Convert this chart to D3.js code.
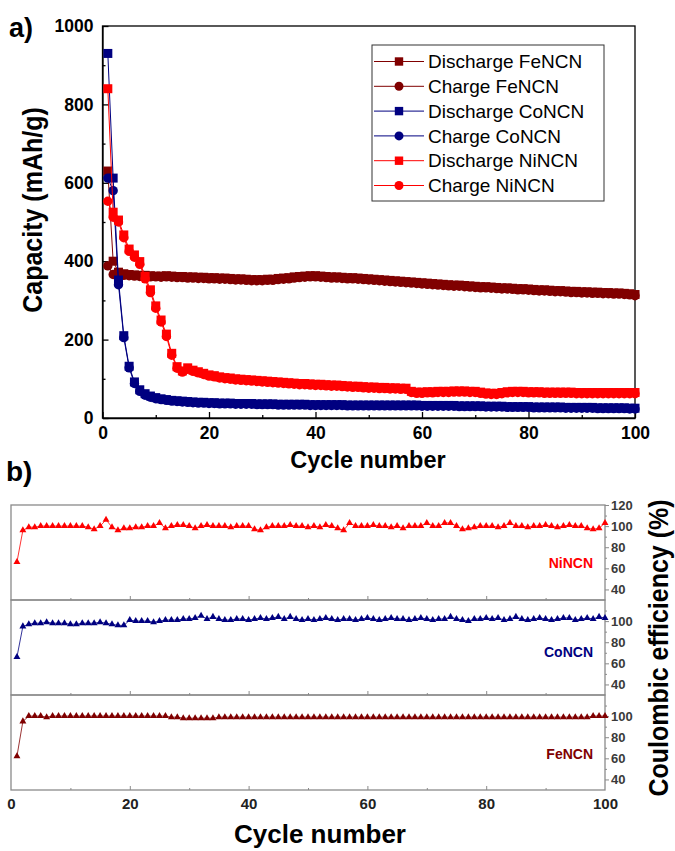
<!DOCTYPE html>
<html>
<head>
<meta charset="utf-8">
<script src="https://cdn.jsdelivr.net/npm/d3@7"></script>
<style>
  html, body { margin: 0; padding: 0; background: #fff; }
  svg { display: block; font-family: Arial, "Liberation Sans", sans-serif; }
</style>
</head>
<body>
<svg id="chart" width="675" height="851"></svg>
<script>
// ---------- data ----------
const cycles = d3.range(1, 101);

// Capacity (mAh/g) per cycle
const feDischarge = [
  630, 400, 372, 368, 366, 365, 364, 364, 363, 362,
  362, 363, 362, 361, 361, 360, 360, 359, 359, 358,
  358, 357, 357, 356, 355, 355, 354, 353, 353, 353,
  354, 354, 356, 357, 358, 360, 361, 362, 363, 363,
  362, 361, 360, 360, 359, 358, 358, 357, 356, 355,
  354, 353, 352, 351, 350, 349, 348, 347, 346, 345,
  344, 343, 342, 341, 340, 339, 339, 338, 337, 336,
  335, 335, 334, 333, 332, 332, 331, 330, 330, 329,
  328, 327, 327, 326, 325, 325, 324, 323, 323, 322,
  322, 321, 321, 320, 320, 319, 319, 318, 317, 315
];
const feCharge = [
  388, 366, 365, 364, 363, 362, 361, 361, 360, 360,
  359, 360, 359, 358, 358, 357, 357, 356, 356, 355,
  355, 354, 354, 353, 352, 352, 351, 350, 350, 350,
  351, 351, 353, 354, 355, 357, 358, 359, 360, 360,
  359, 358, 357, 357, 356, 355, 355, 354, 353, 352,
  351, 350, 349, 348, 347, 346, 345, 344, 343, 342,
  341, 340, 339, 338, 337, 336, 336, 335, 334, 333,
  332, 332, 331, 330, 329, 329, 328, 327, 327, 326,
  325, 324, 324, 323, 322, 322, 321, 320, 320, 319,
  319, 318, 318, 317, 317, 316, 316, 315, 314, 312
];
const coDischarge = [
  930, 612, 352, 210, 132, 92, 72, 62, 56, 52,
  49, 47, 45, 44, 43, 42, 41, 40, 40, 39,
  39, 38, 38, 38, 37, 37, 37, 37, 36, 36,
  36, 36, 35, 35, 35, 35, 35, 35, 34, 34,
  34, 34, 34, 34, 34, 33, 33, 33, 33, 33,
  33, 33, 33, 33, 33, 33, 33, 33, 33, 32,
  32, 32, 32, 32, 32, 32, 31, 31, 31, 31,
  31, 30, 30, 30, 30, 29, 29, 29, 29, 29,
  28, 28, 28, 28, 28, 28, 27, 27, 27, 27,
  27, 27, 26, 26, 26, 26, 26, 26, 25, 25
];
const coCharge = [
  612, 580, 340, 205, 128, 88, 68, 58, 53, 49,
  47, 45, 43, 42, 41, 40, 39, 38, 38, 37,
  37, 36, 36, 36, 35, 35, 35, 35, 34, 34,
  34, 34, 33, 33, 33, 33, 33, 33, 32, 32,
  32, 32, 32, 32, 32, 31, 31, 31, 31, 31,
  31, 31, 31, 31, 31, 31, 31, 31, 31, 30,
  30, 30, 30, 30, 30, 30, 29, 29, 29, 29,
  29, 28, 28, 28, 28, 27, 27, 27, 27, 27,
  26, 26, 26, 26, 26, 26, 25, 25, 25, 25,
  25, 25, 24, 24, 24, 24, 24, 24, 23, 23
];
const niDischarge = [
  840, 525, 505, 467, 431, 416, 399, 361, 327, 286,
  250, 214, 165, 131, 120, 128, 122, 118, 114, 110,
  108, 105, 103, 102, 100, 99, 98, 97, 96, 95,
  94, 93, 92, 91, 90, 89, 88, 88, 87, 86,
  86, 85, 84, 84, 83, 82, 81, 81, 80, 79,
  79, 78, 78, 77, 77, 76, 76, 68, 66, 66,
  67, 67, 68, 68, 68, 69, 69, 69, 68, 68,
  66, 64, 63, 63, 65, 67, 68, 68, 68, 67,
  67, 67, 66, 66, 66, 66, 66, 66, 65, 65,
  65, 65, 65, 65, 65, 65, 65, 65, 65, 65
];
const niCharge = [
  553, 512, 500, 460, 425, 410, 392, 355, 320, 280,
  245, 208, 160, 127, 117, 124, 119, 115, 111, 107,
  105, 102, 100, 99, 97, 96, 95, 94, 93, 92,
  91, 90, 89, 88, 87, 86, 85, 85, 84, 83,
  83, 82, 81, 81, 80, 79, 78, 78, 77, 76,
  76, 75, 75, 74, 74, 73, 73, 65, 63, 63,
  64, 64, 65, 65, 65, 66, 66, 66, 65, 65,
  63, 61, 60, 60, 62, 64, 65, 65, 65, 64,
  64, 64, 63, 63, 63, 63, 63, 63, 62, 62,
  62, 62, 62, 62, 62, 62, 62, 62, 62, 62
];

// Coulombic efficiency (%) per cycle
const niEff = [
  66, 96, 99, 99, 100, 100, 100, 100, 100, 100,
  100, 100, 99, 97, 100, 106, 99, 96, 98, 98,
  99, 99, 100, 100, 103, 98, 100, 101, 101, 100,
  98, 100, 101, 100, 100, 100, 99, 100, 100, 100,
  97, 96, 99, 100, 100, 100, 101, 100, 100, 99,
  100, 99, 101, 100, 98, 96, 103, 100, 100, 100,
  101, 100, 100, 99, 100, 98, 100, 100, 100, 103,
  100, 100, 103, 103, 100, 97, 98, 99, 100, 100,
  100, 99, 100, 103, 100, 100, 99, 100, 100, 101,
  100, 99, 100, 101, 100, 100, 98, 97, 98, 103
];
const coEff = [
  66, 95, 97, 98, 98, 99, 98, 98, 98, 97,
  97, 98, 98, 98, 99, 98, 97, 96, 96, 101,
  100, 100, 100, 99, 100, 101, 101, 101, 102, 102,
  103, 105, 102, 104, 102, 101, 101, 102, 102, 101,
  102, 103, 102, 103, 104, 102, 104, 102, 101, 102,
  101, 102, 103, 102, 101, 102, 102, 101, 102, 103,
  102, 101, 102, 103, 102, 102, 101, 102, 103, 102,
  101, 102, 102, 104, 102, 101, 100, 102, 102, 103,
  102, 103, 101, 102, 104, 102, 101, 102, 103, 102,
  101, 102, 103, 103, 101, 102, 103, 102, 104, 103
];
const feEff = [
  62, 95, 100, 100, 100, 99, 100, 100, 100, 100,
  100, 100, 100, 100, 100, 100, 100, 100, 100, 100,
  100, 100, 100, 100, 100, 100, 99, 99, 98, 98,
  98, 98, 98, 98, 99, 99, 99, 99, 99, 99,
  99, 99, 99, 99, 99, 99, 99, 99, 99, 99,
  99, 99, 99, 99, 99, 99, 99, 99, 99, 99,
  99, 99, 99, 99, 99, 99, 99, 99, 99, 99,
  99, 99, 99, 99, 99, 99, 99, 99, 99, 99,
  99, 99, 99, 99, 99, 99, 99, 99, 99, 99,
  99, 99, 99, 99, 99, 99, 99, 100, 100, 100
];

// Tick labels
const capTicks = [0, 200, 400, 600, 800, 1000];
const capMinorTicks = [100, 300, 500, 700, 900];
const cycleTicks = [0, 20, 40, 60, 80, 100];
const cycleMinorTicks = [10, 30, 50, 70, 90];
const effTicksTop = [40, 60, 80, 100, 120];
const effTicks = [40, 60, 80, 100];
const effMinorTicks = [50, 70, 90, 110];

// ---------- styles ----------
const FE = "#800000", CO = "#000080", NI = "#ff0000";
const FONT = "Arial, 'Liberation Sans', sans-serif";
const svg = d3.select("#chart");
const intFmt = d3.format("d");

function styleAxis(g, color, width) {
  g.select(".domain").attr("stroke", color).attr("stroke-width", width);
  g.selectAll(".tick line").attr("stroke", color).attr("stroke-width", width);
}

// ---------- (a) capacity vs cycle ----------
const ax = d3.scaleLinear().domain([0, 100]).range([102.5, 635]);
const ay = d3.scaleLinear().domain([0, 1000]).range([418, 26]);

const capSeries = [
  { name: "Discharge FeNCN", values: feDischarge, color: FE, shape: "square" },
  { name: "Charge FeNCN",    values: feCharge,    color: FE, shape: "circle" },
  { name: "Discharge CoNCN", values: coDischarge, color: CO, shape: "square" },
  { name: "Charge CoNCN",    values: coCharge,    color: CO, shape: "circle" },
  { name: "Discharge NiNCN", values: niDischarge, color: NI, shape: "square" },
  { name: "Charge NiNCN",    values: niCharge,    color: NI, shape: "circle" }
];

const gA = svg.append("g");

// minor ticks
gA.append("g").attr("transform", "translate(0,418)")
  .call(d3.axisBottom(ax).tickValues(cycleMinorTicks).tickSize(-3).tickSizeOuter(0).tickFormat(""))
  .call(g => { styleAxis(g, "#000", 1.3); g.select(".domain").remove(); });
gA.append("g").attr("transform", "translate(102.5,0)")
  .call(d3.axisLeft(ay).tickValues(capMinorTicks).tickSize(-3).tickSizeOuter(0).tickFormat(""))
  .call(g => { styleAxis(g, "#000", 1.3); g.select(".domain").remove(); });

// major ticks with labels
const xAxA = gA.append("g").attr("transform", "translate(0,418)")
  .call(d3.axisBottom(ax).tickValues(cycleTicks).tickFormat(intFmt)
    .tickSize(-6).tickSizeOuter(0).tickPadding(9));
styleAxis(xAxA, "#000", 1.3);
xAxA.selectAll("text").attr("font-size", 17.5).attr("font-weight", "bold").attr("fill", "#000")
  .attr("font-family", FONT);

const yAxA = gA.append("g").attr("transform", "translate(102.5,0)")
  .call(d3.axisLeft(ay).tickValues(capTicks).tickFormat(intFmt)
    .tickSize(-6).tickSizeOuter(0).tickPadding(9));
styleAxis(yAxA, "#000", 1.3);
yAxA.selectAll("text").attr("font-size", 17.5).attr("font-weight", "bold").attr("fill", "#000")
  .attr("font-family", FONT);

// frame
gA.append("rect")
  .attr("x", ax(0)).attr("y", ay(1000))
  .attr("width", ax(100) - ax(0)).attr("height", ay(0) - ay(1000))
  .attr("fill", "none").attr("stroke", "#000").attr("stroke-width", 1.3);

// series
const capLine = d3.line().x((d, i) => ax(cycles[i])).y(d => ay(d));
capSeries.forEach(s => {
  const g = gA.append("g");
  g.append("path").datum(s.values).attr("d", capLine)
    .attr("fill", "none").attr("stroke", s.color).attr("stroke-width", 1);
  if (s.shape === "square") {
    g.selectAll("rect").data(s.values).join("rect")
      .attr("x", (d, i) => ax(cycles[i]) - 4.5).attr("y", d => ay(d) - 4.5)
      .attr("width", 9).attr("height", 9).attr("fill", s.color);
  } else {
    g.selectAll("circle").data(s.values).join("circle")
      .attr("cx", (d, i) => ax(cycles[i])).attr("cy", d => ay(d))
      .attr("r", 4.7).attr("fill", s.color);
  }
});

// legend
const leg = gA.append("g");
leg.append("rect").attr("x", 372).attr("y", 45).attr("width", 232).attr("height", 156)
  .attr("fill", "#fff").attr("stroke", "#333").attr("stroke-width", 1);
capSeries.forEach((s, i) => {
  const y = 61.5 + i * 24.8;
  leg.append("line").attr("x1", 374).attr("x2", 424).attr("y1", y).attr("y2", y)
    .attr("stroke", s.color).attr("stroke-width", 1);
  if (s.shape === "square") {
    leg.append("rect").attr("x", 399 - 4.2).attr("y", y - 4.2).attr("width", 8.4).attr("height", 8.4)
      .attr("fill", s.color);
  } else {
    leg.append("circle").attr("cx", 399).attr("cy", y).attr("r", 4.5).attr("fill", s.color);
  }
  leg.append("text").attr("x", 428).attr("y", y).attr("dy", "0.35em")
    .attr("font-size", 19).attr("fill", "#000").text(s.name);
});

// titles
svg.append("text").attr("x", 9).attr("y", 37).attr("font-size", 27).attr("font-weight", "bold").text("a)");
svg.append("text").attr("transform", "translate(42,210) rotate(-90) scale(1,1.12)")
  .attr("text-anchor", "middle").attr("font-size", 25).attr("font-weight", "bold").text("Capacity (mAh/g)");
svg.append("text").attr("x", 368).attr("y", 468).attr("text-anchor", "middle")
  .attr("font-size", 23.5).attr("font-weight", "bold").text("Cycle number");

// ---------- (b) coulombic efficiency ----------
const bx = d3.scaleLinear().domain([0, 100]).range([11, 605]);
const panelTop = 505, panelH = 95;
const effPanels = [
  { label: "NiNCN", values: niEff, color: NI, labelDy: 58 },
  { label: "CoNCN", values: coEff, color: CO, labelDy: 52 },
  { label: "FeNCN", values: feEff, color: FE, labelDy: 59 }
];
const GRAY = "#8a8a8a";
const gB = svg.append("g");

effPanels.forEach((p, k) => {
  const top = panelTop + k * panelH;
  const ey = d3.scaleLinear().domain([30, 120]).range([top + panelH, top]);
  const g = gB.append("g");

  // bottom ticks, pointing inward
  g.append("g").attr("transform", `translate(0,${top + panelH})`)
    .call(d3.axisBottom(bx).tickValues(cycleMinorTicks).tickSize(-2).tickSizeOuter(0).tickFormat(""))
    .call(a => { styleAxis(a, GRAY, 1); a.select(".domain").remove(); });
  g.append("g").attr("transform", `translate(0,${top + panelH})`)
    .call(d3.axisBottom(bx).tickValues(cycleTicks.slice(1, -1)).tickSize(-4).tickSizeOuter(0).tickFormat(""))
    .call(a => { styleAxis(a, GRAY, 1); a.select(".domain").remove(); });

  // right efficiency axis
  g.append("g").attr("transform", "translate(605,0)")
    .call(d3.axisRight(ey).tickValues(effMinorTicks).tickSize(2).tickSizeOuter(0).tickFormat(""))
    .call(a => { styleAxis(a, GRAY, 1); a.select(".domain").remove(); });
  const ya = g.append("g").attr("transform", "translate(605,0)")
    .call(d3.axisRight(ey).tickValues(k === 0 ? effTicksTop : effTicks).tickFormat(intFmt)
      .tickSize(4).tickSizeOuter(0).tickPadding(2));
  styleAxis(ya, GRAY, 1);
  ya.select(".domain").remove();
  ya.selectAll("text").attr("font-size", 13).attr("font-weight", "bold").attr("fill", "#3a3a3a")
    .attr("font-family", FONT);

  // frame of the panel
  g.append("rect").attr("x", bx(0)).attr("y", top).attr("width", bx(100) - bx(0)).attr("height", panelH)
    .attr("fill", "none").attr("stroke", GRAY).attr("stroke-width", 1.3);

  // data
  const line = d3.line().x((d, i) => bx(cycles[i])).y(d => ey(d));
  g.append("path").datum(p.values).attr("d", line)
    .attr("fill", "none").attr("stroke", p.color).attr("stroke-width", 0.8);
  const tri = d3.symbol().type(d3.symbolTriangle).size(21);
  g.selectAll(".tri").data(p.values).join("path").attr("class", "tri")
    .attr("d", tri)
    .attr("transform", (d, i) => `translate(${bx(cycles[i])},${ey(d)})`)
    .attr("fill", p.color);

  g.append("text").attr("x", 593).attr("y", top + p.labelDy).attr("dy", "0.35em")
    .attr("text-anchor", "end").attr("font-size", 14).attr("font-weight", "bold")
    .attr("fill", p.color).text(p.label);
});

// x tick labels under the bottom panel
const xb = gB.append("g").attr("transform", `translate(0,${panelTop + 3 * panelH})`)
  .call(d3.axisBottom(bx).tickValues(cycleTicks).tickFormat(intFmt).tickSize(0).tickPadding(8));
xb.select(".domain").remove();
xb.selectAll("text").attr("font-size", 15).attr("font-weight", "bold").attr("fill", "#222")
  .attr("font-family", FONT);

svg.append("text").attr("x", 6).attr("y", 481).attr("font-size", 28).attr("font-weight", "bold").text("b)");
svg.append("text").attr("x", 320).attr("y", 843).attr("text-anchor", "middle")
  .attr("font-size", 26).attr("font-weight", "bold").text("Cycle number");
svg.append("text").attr("transform", "translate(668,648) rotate(-90) scale(1,1.1)")
  .attr("text-anchor", "middle").attr("font-size", 25).attr("font-weight", "bold").text("Coulombic efficiency (%)");
</script>
</body>
</html>
